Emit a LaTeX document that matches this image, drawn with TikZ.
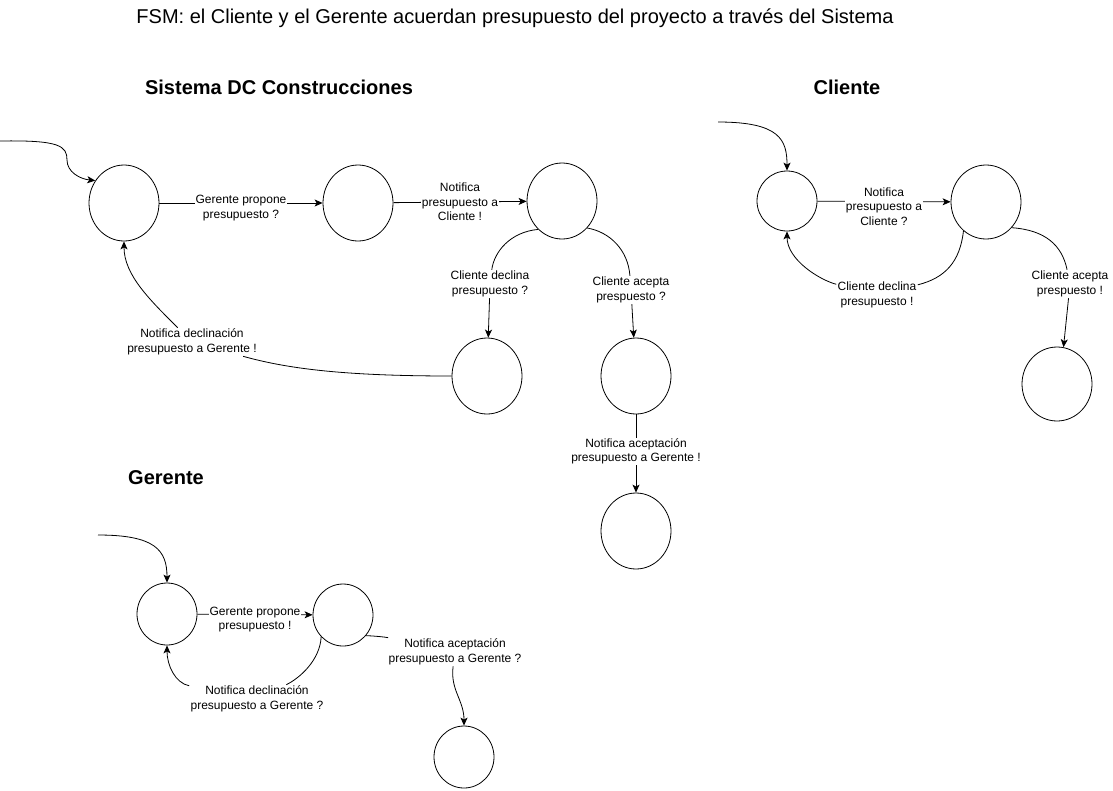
\documentclass[tikz,border=0pt]{standalone}
\usepackage{fontspec}
\setmainfont{Liberation Sans}
\usetikzlibrary{shapes.geometric, arrows.meta}

\tikzset{
  state/.style={draw, ellipse, minimum width=70pt, minimum height=76pt, inner sep=0pt},
  small/.style={state, minimum width=60pt, minimum height=62pt},
  lbl/.style={fill=white, align=center, inner sep=1pt, font=\fontsize{12}{14.5}\selectfont},
  heading/.style={font=\fontsize{20}{24}\selectfont\bfseries},
}

\begin{document}
\begin{tikzpicture}[x=1pt, y=-1pt, line width=0.8pt, >={Stealth[length=8pt, width=7pt, inset=2pt]}]
  \useasboundingbox (0,0) rectangle (1113,790);
  \node [font=\fontsize{20}{24}\selectfont] (title) at (515,18) {FSM: el Cliente y el Gerente acuerdan presupuesto del proyecto a través del Sistema};

  % Sistema
  \node [heading] (hsis) at (279,87) {Sistema DC Construcciones};
  \coordinate (si) at (0,141);
  \node [state] (s1) at (124,203) {};
  \node [state] (s2) at (358,203) {};
  \node [state] (s3) at (562,201) {};
  \node [state] (s4) at (487,376) {};
  \node [state] (s5) at (636,376) {};
  \node [state] (s6) at (636,531) {};
  \node [lbl] (dc34) at (490,284) {Cliente declina\\presupuesto ?};
  \node [lbl] (ac35) at (631,290) {Cliente acepta\\prespuesto ?};
  \node [lbl] (nd41) at (192,342) {Notifica declinación\\presupuesto a Gerente !};
  \draw [->] (si) .. controls (60,140) and (67,146) .. (67,160) .. controls (67,172) and (80,179) .. (s1.142);
  \draw [->] (s1) -- (s2) node [lbl, midway, yshift=-5pt] {Gerente propone\\presupuesto ?};
  \draw [->] (s2) -- (s3) node [lbl, midway] {Notifica\\presupuesto a\\Cliente !};
  \draw [->] (s3.230) .. controls (510,232) and (494,252) .. (dc34) -- (s4);
  \draw [->] (s3.313) .. controls (610,232) and (628,250) .. (ac35) -- (s5);
  \draw [->] (s5) -- (s6) node [lbl, midway, yshift=2pt] {Notifica aceptación\\presupuesto a Gerente !};
  \draw [->] (s4) .. controls (340,376) and (285,368) .. (nd41) .. controls (150,300) and (124,275) .. (s1);

  % Cliente
  \node [heading] (hcli) at (847,87) {Cliente};
  \coordinate (ci) at (718,122);
  \node [state, minimum width=60pt, minimum height=60pt] (c1) at (787,201) {};
  \node [state, minimum height=74pt] (c2) at (986,202) {};
  \node [state, minimum height=74pt] (c3) at (1057,384) {};
  \node [lbl] (cd21) at (877,295) {Cliente declina\\presupuesto !};
  \node [lbl] (ca23) at (1070,284) {Cliente acepta\\prespuesto !};
  \draw [->] (ci) .. controls (780,122) and (787,140) .. (c1);
  \draw [->] (c1) -- (c2) node [lbl, midway, yshift=-5pt] {Notifica\\presupuesto a\\Cliente ?};
  \draw [->] (c2.232) .. controls (960,262) and (945,278) .. (cd21) .. controls (820,280) and (787,260) .. (c1);
  \draw [->] (c2.315) .. controls (1045,230) and (1062,245) .. (ca23) -- (c3.80);

  % Gerente
  \node [heading] (hger) at (166,478) {Gerente};
  \coordinate (gi) at (98,535);
  \node [small] (g1) at (167,614) {};
  \node [small] (g2) at (343,615) {};
  \node [small] (g3) at (464,757) {};
  \node [lbl] (nd21) at (257,699) {Notifica declinación\\presupuesto a Gerente ?};
  \node [lbl] (na23) at (455,652) {Notifica aceptación\\presupuesto a Gerente ?};
  \draw [->] (gi) .. controls (155,535) and (167,550) .. (g1);
  \draw [->] (g1) -- (g2) node [lbl, midway, yshift=-5pt] {Gerente propone\\presupuesto !};
  \draw [->] (g2.225) .. controls (320,660) and (300,678) .. (nd21) .. controls (175,683) and (167,665) .. (g1);
  \draw [->] (g2.318) .. controls (375,636) and (385,637) .. (na23) .. controls (450,690) and (464,700) .. (g3);
\end{tikzpicture}
\end{document}
